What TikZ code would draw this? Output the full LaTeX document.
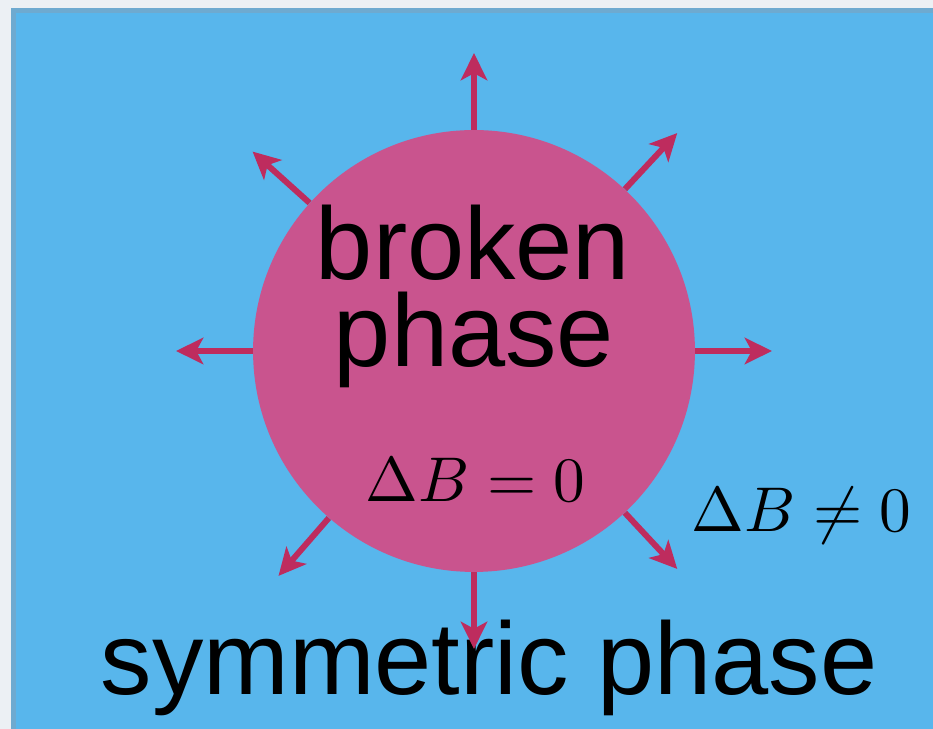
\documentclass[tikz,border=0pt]{standalone}
\usepackage{fontspec}
\setsansfont{Liberation Sans}
\usetikzlibrary{arrows.meta,calc}
\definecolor{paper}{RGB}{236,240,244}
\definecolor{symblue}{RGB}{88,182,236}
\definecolor{symedge}{RGB}{110,170,208}
\definecolor{bubblepink}{RGB}{201,84,142}
\definecolor{wallred}{RGB}{190,44,94}
\tikzset{
  wallarrow/.style={wallred, line width=3.4pt, -{Stealth[length=15.5pt, width=15pt, inset=4pt]}},
  bigtext/.style={font=\sffamily\fontsize{58.5}{60}\selectfont, anchor=base, inner sep=0pt},
  mathtext/.style={scale=3.6, anchor=base, inner sep=0pt}
}
\begin{document}
\begin{tikzpicture}[x=0.02cm, y=0.02cm]
    \useasboundingbox (0,0) rectangle (933,729);
    \fill[paper] (0,0) rectangle (933,729);
    \fill[symedge] (11,0) rectangle (933,721);
    \fill[symblue] (16,0) rectangle (933,716);
    \node[circle, fill=bubblepink, minimum size=8.84cm, inner sep=0pt] (bubble) at (474,378) {};
    \node[bigtext] (broken) at (473,449) {broken};
    \node[bigtext] (phase) at (474,362) {phase};
    \node[mathtext] (inside) at (475.5,227) {$\Delta B = 0$};
    \node[mathtext] (outside) at (801.5,197) {$\Delta B \neq 0$};
    \node[bigtext] (symmetric) at (489,34) {symmetric phase};
    \foreach \a in {0, 47, 90, 138, 180, 229, 270, 313} {
      \coordinate (tip\a) at ($(bubble.center)+(\a:298)$);
      \draw[wallarrow] (bubble.\a) -- (tip\a);
    }
  \end{tikzpicture}
\end{document}
